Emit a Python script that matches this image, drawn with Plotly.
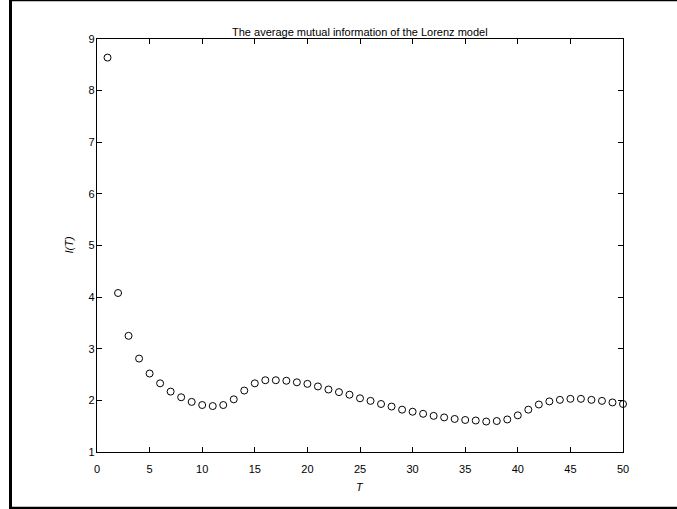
import plotly.graph_objects as go

# Average mutual information I(T) of the Lorenz x-series versus delay T
T = list(range(1, 51))
ami = [8.64, 4.08, 3.25, 2.81, 2.52, 2.33, 2.17, 2.06, 1.97, 1.91,
       1.89, 1.91, 2.02, 2.19, 2.33, 2.39, 2.39, 2.38, 2.35, 2.32,
       2.27, 2.21, 2.16, 2.11, 2.04, 1.99, 1.93, 1.88, 1.82, 1.78,
       1.74, 1.70, 1.67, 1.64, 1.62, 1.61, 1.59, 1.60, 1.63, 1.71,
       1.82, 1.92, 1.98, 2.01, 2.03, 2.03, 2.01, 1.99, 1.96, 1.93]

x_ticks = list(range(0, 51, 5))
y_ticks = list(range(1, 10))

title_text = "The average mutual information of the Lorenz model"
x_label = "<i>T</i>"
y_label = "<i>I(T)</i>"

W, H = 677, 509
L, R, TOP, B = 97, 54, 39, 57
pw, ph = W - L - R, H - TOP - B


def px(x):
    return (x - L) / pw


def py(y):
    return (H - B - y) / ph


font = dict(family="Liberation Sans, Arial, Helvetica, sans-serif", size=11, color="black")

fig = go.Figure(
    go.Scatter(
        x=T, y=ami, mode="markers", cliponaxis=False,
        marker=dict(symbol="circle-open", size=7, color="black", line=dict(width=1, color="black")),
        showlegend=False,
    )
)

axis_common = dict(
    showline=True, linecolor="black", linewidth=1.3, mirror="ticks",
    ticks="inside", ticklen=5, tickcolor="black", tickwidth=1,
    showgrid=False, zeroline=False, tickfont=font,
)
fig.update_xaxes(range=[0, 50], tickvals=x_ticks, ticktext=[str(v) for v in x_ticks],
                 ticklabelstandoff=7, **axis_common)
fig.update_yaxes(range=[1, 9], tickvals=y_ticks, ticktext=[str(v) for v in y_ticks],
                 ticklabelstandoff=-1, **axis_common)

annotations = [
    dict(text=title_text, x=0.5, y=py(32), xref="paper", yref="paper",
         showarrow=False, font=font, xanchor="center", yanchor="middle"),
    dict(text=x_label, x=0.5, y=py(487), xref="paper", yref="paper",
         showarrow=False, font=font, xanchor="center", yanchor="middle"),
    dict(text=y_label, x=px(68), y=0.5, xref="paper", yref="paper", textangle=-90,
         showarrow=False, font=font, xanchor="center", yanchor="middle"),
]

# Figure window border (left, top, bottom edges)
frame = dict(type="line", xref="paper", yref="paper", line=dict(color="black"))
shapes = [
    dict(frame, x0=px(10.5), x1=px(10.5), y0=py(0), y1=py(H), line=dict(color="black", width=3)),
    dict(frame, x0=px(9), x1=px(W + 2), y0=py(0.5), y1=py(0.5), line=dict(color="black", width=1.5)),
    dict(frame, x0=px(9), x1=px(W + 2), y0=py(508), y1=py(508), line=dict(color="black", width=2.5)),
]

fig.update_layout(
    width=W, height=H,
    margin=dict(l=L, r=R, t=TOP, b=B, pad=0),
    paper_bgcolor="white", plot_bgcolor="white",
    font=font, annotations=annotations, shapes=shapes,
)

fig.write_html("out.html")
